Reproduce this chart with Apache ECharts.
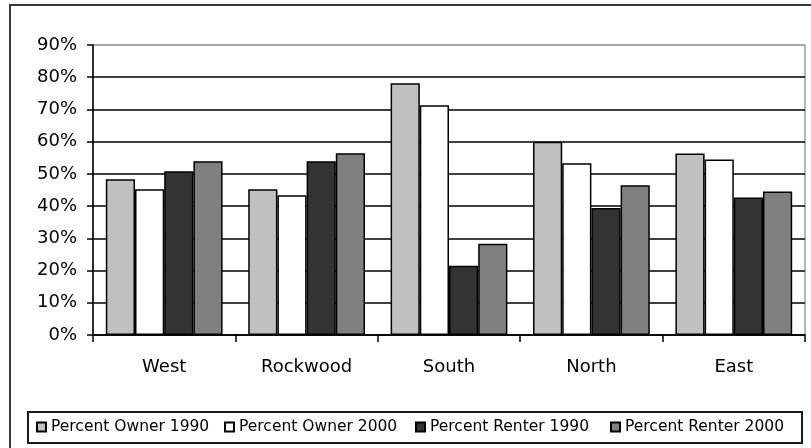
<!DOCTYPE html>
<html>
<head>
<meta charset="utf-8">
<script src="https://cdn.jsdelivr.net/npm/echarts@6/dist/echarts.min.js"></script>
<style>
  html, body { margin: 0; padding: 0; background: #fff; }
  #chart { width: 811px; height: 448px; }
</style>
</head>
<body>
<div id="chart"></div>
<script>
// Owner / renter share of housing units by area, 1990 vs 2000 (percent)
const areas = ['West', 'Rockwood', 'South', 'North', 'East'];
const seriesNames = ['Percent Owner 1990', 'Percent Owner 2000', 'Percent Renter 1990', 'Percent Renter 2000'];
const owner1990 = [48.3, 45.2, 78.1, 60.0, 56.3];
const owner2000 = [45.2, 43.4, 71.3, 53.3, 54.5];
const renter1990 = [50.8, 53.9, 21.5, 39.4, 42.7];
const renter2000 = [53.9, 56.4, 28.3, 46.5, 44.5];
const yTicks = [0, 10, 20, 30, 40, 50, 60, 70, 80, 90];

const seriesValues = [owner1990, owner2000, renter1990, renter2000];
const fills = ['#c0c0c0', '#ffffff', '#333333', '#808080'];
const legendLeft = [36, 224, 415, 610];
const FONT = 'DejaVu Sans';

const chart = echarts.init(document.getElementById('chart'), null, { renderer: 'canvas' });

// one grid line per tick; the top one doubles as the plot-area frame
const splitColors = yTicks.map((v, i) => i === yTicks.length - 1 ? '#a0a0a0' : '#000000');

chart.setOption({
  backgroundColor: '#ffffff',
  animation: false,
  grid: {
    left: 93, right: 6, top: 45, bottom: 113,
    show: true, borderColor: '#a0a0a0', borderWidth: 1.5,
    backgroundColor: 'transparent',
    containLabel: false, outerBoundsMode: 'none'
  },
  xAxis: {
    type: 'category',
    data: areas,
    boundaryGap: true,
    axisLine: { show: true, lineStyle: { color: '#000', width: 1.5 } },
    axisTick: { show: true, length: 7, lineStyle: { color: '#000', width: 1.5 } },
    axisLabel: { color: '#000', fontFamily: FONT, fontSize: 18, margin: 23 },
    splitLine: { show: false }
  },
  yAxis: {
    type: 'value',
    min: yTicks[0], max: yTicks[yTicks.length - 1], interval: 10,
    axisLine: { show: true, lineStyle: { color: '#000', width: 1.5 } },
    axisTick: { show: true, length: 6, lineStyle: { color: '#000', width: 1.5 } },
    axisLabel: { color: '#000', fontFamily: FONT, fontSize: 18, margin: 16, formatter: '{value}%' },
    splitLine: { show: true, lineStyle: { color: splitColors, width: 1.5 } }
  },
  legend: seriesNames.map((name, i) => ({
    data: [name],
    left: legendLeft[i],
    top: 419,
    padding: 0,
    itemWidth: 9,
    itemHeight: 9,
    icon: 'rect',
    selectedMode: false,
    textStyle: { color: '#000', fontFamily: FONT, fontSize: 15.5 }
  })),
  series: seriesNames.map((name, i) => ({
    name: name,
    type: 'bar',
    data: seriesValues[i],
    barGap: '0%',
    barCategoryGap: '18%',
    itemStyle: { color: fills[i], borderColor: '#000', borderWidth: 1.5 }
  })),
  graphic: [
    {
      type: 'rect', silent: true, z: 100,
      shape: { x: 10, y: 5, width: 900, height: 600 },
      style: { fill: 'none', stroke: '#3a3a3a', lineWidth: 2 }
    },
    {
      type: 'rect', silent: true, z: 100,
      shape: { x: 28, y: 412, width: 774, height: 31 },
      style: { fill: 'none', stroke: '#1a1a1a', lineWidth: 2 }
    }
  ]
});
</script>
</body>
</html>
